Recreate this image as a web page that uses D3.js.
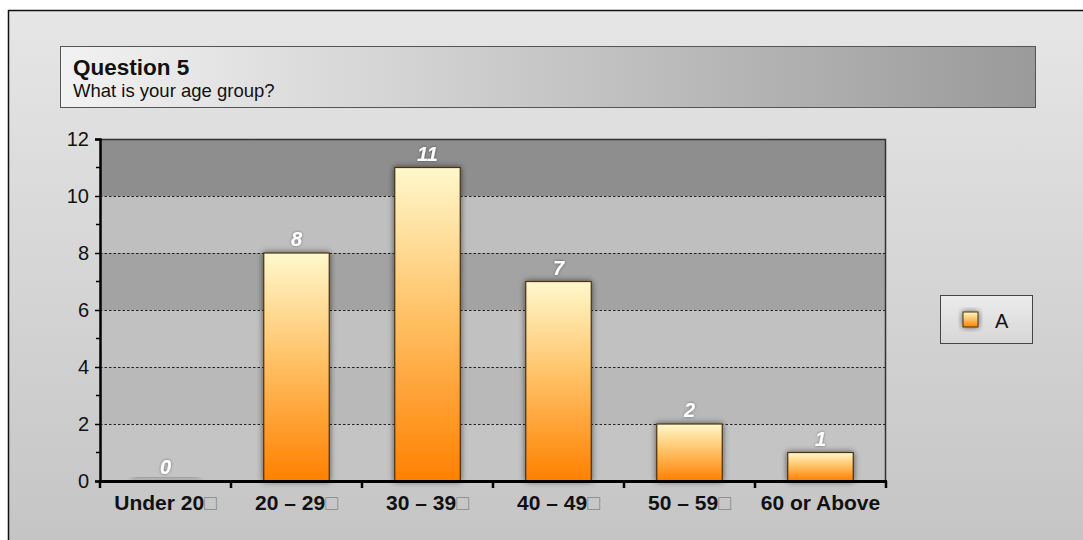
<!DOCTYPE html>
<html>
<head>
<meta charset="utf-8">
<script src="https://cdn.jsdelivr.net/npm/d3@7"></script>
<style>
  html, body { margin: 0; padding: 0; background: #ffffff; }
  svg { display: block; font-family: "Liberation Sans", Arial, sans-serif; }
</style>
</head>
<body>
<svg id="chart" width="1083" height="540"></svg>
<script>
// Survey answers: age groups and respondent counts
const categories = ["Under 20\u25A1", "20 \u2013 29\u25A1", "30 \u2013 39\u25A1", "40 \u2013 49\u25A1", "50 \u2013 59\u25A1", "60 or Above"];
const counts = [0, 8, 11, 7, 2, 1];
const yTicks = [0, 2, 4, 6, 8, 10, 12];
const yMinorTicks = [1, 3, 5, 7, 9, 11];
const bandShades = ["#c4c4c4", "#b9b9b9", "#c1c1c1", "#a3a3a3", "#bfbfbf", "#8e8e8e"];
const titleText = "Question 5";
const subtitleText = "What is your age group?";
const seriesName = "A";

const svg = d3.select("#chart");
const defs = svg.append("defs");

// Gradients
const frameGrad = defs.append("linearGradient").attr("id", "frameGrad")
  .attr("x1", 0).attr("y1", 0).attr("x2", 0).attr("y2", 1);
frameGrad.append("stop").attr("offset", "0%").attr("stop-color", "#e6e6e6");
frameGrad.append("stop").attr("offset", "100%").attr("stop-color", "#c4c4c4");

const titleGrad = defs.append("linearGradient").attr("id", "titleGrad")
  .attr("x1", 0).attr("y1", 0).attr("x2", 1).attr("y2", 0);
titleGrad.append("stop").attr("offset", "0%").attr("stop-color", "#f2f2f2");
titleGrad.append("stop").attr("offset", "100%").attr("stop-color", "#9a9a9a");

const barGrad = defs.append("linearGradient").attr("id", "barGrad")
  .attr("x1", 0).attr("y1", 0).attr("x2", 0).attr("y2", 1);
barGrad.append("stop").attr("offset", "0%").attr("stop-color", "#fff8cc");
barGrad.append("stop").attr("offset", "45%").attr("stop-color", "#ffc46a");
barGrad.append("stop").attr("offset", "100%").attr("stop-color", "#ff8000");

const legendGrad = defs.append("linearGradient").attr("id", "legendGrad")
  .attr("x1", 0).attr("y1", 0).attr("x2", 0).attr("y2", 1);
legendGrad.append("stop").attr("offset", "0%").attr("stop-color", "#ececec");
legendGrad.append("stop").attr("offset", "100%").attr("stop-color", "#d6d6d6");

const shadow = defs.append("filter").attr("id", "barShadow")
  .attr("x", "-30%").attr("y", "-30%").attr("width", "160%").attr("height", "160%");
shadow.append("feGaussianBlur").attr("in", "SourceAlpha").attr("stdDeviation", 3).attr("result", "blur");
shadow.append("feComponentTransfer").attr("in", "blur").attr("result", "soft")
  .append("feFuncA").attr("type", "linear").attr("slope", 0.6);
const sm = shadow.append("feMerge");
sm.append("feMergeNode").attr("in", "soft");
sm.append("feMergeNode").attr("in", "SourceGraphic");

const textShadow = defs.append("filter").attr("id", "textShadow")
  .attr("x", "-30%").attr("y", "-30%").attr("width", "160%").attr("height", "160%");
textShadow.append("feGaussianBlur").attr("in", "SourceAlpha").attr("stdDeviation", 1.5).attr("result", "blur");
textShadow.append("feComponentTransfer").attr("in", "blur").attr("result", "soft")
  .append("feFuncA").attr("type", "linear").attr("slope", 0.45);
const tm = textShadow.append("feMerge");
tm.append("feMergeNode").attr("in", "soft");
tm.append("feMergeNode").attr("in", "SourceGraphic");

// Outer frame
svg.append("rect").attr("x", 8.5).attr("y", 10.5).attr("width", 1090).attr("height", 540)
  .attr("fill", "url(#frameGrad)").attr("stroke", "#111").attr("stroke-width", 1.5);

// Title box
svg.append("rect").attr("x", 60.5).attr("y", 46.5).attr("width", 975).attr("height", 61)
  .attr("fill", "url(#titleGrad)").attr("stroke", "#555").attr("stroke-width", 1);
svg.append("text").attr("x", 73).attr("y", 75)
  .attr("font-size", 22.5).attr("font-weight", "bold").attr("fill", "#111").text(titleText);
svg.append("text").attr("x", 73).attr("y", 97)
  .attr("font-size", 18.5).attr("fill", "#111").text(subtitleText);

// Plot area
const plot = { left: 100, right: 886, top: 139, bottom: 481 };

const x = d3.scaleBand().domain(categories).range([plot.left, plot.right]).paddingInner(0.5).paddingOuter(0.25);
const xEdges = d3.scaleLinear().domain([0, categories.length]).range([plot.left, plot.right]);
const y = d3.scaleLinear().domain([0, 12]).range([plot.bottom, plot.top]);

// Alternating shaded bands between major gridlines
const bands = d3.pairs(yTicks);
svg.append("g").selectAll("rect").data(bands).join("rect")
  .attr("x", plot.left).attr("width", plot.right - plot.left)
  .attr("y", d => y(d[1])).attr("height", d => y(d[0]) - y(d[1]))
  .attr("fill", (d, i) => bandShades[i]);

// Dotted gridlines
svg.append("g").selectAll("line").data(yTicks.filter(t => t > 0 && t < 12)).join("line")
  .attr("x1", plot.left).attr("x2", plot.right)
  .attr("y1", d => y(d) + 0.5).attr("y2", d => y(d) + 0.5)
  .attr("stroke", "#222").attr("stroke-width", 1.2).attr("stroke-dasharray", "2.5,2");

// Plot border (top and right)
svg.append("path")
  .attr("d", `M${plot.left},${plot.top + 0.5}H${plot.right - 0.5}V${plot.bottom}`)
  .attr("fill", "none").attr("stroke", "#333").attr("stroke-width", 1.5);

// Bars
svg.append("g").selectAll("rect").data(counts).join("rect")
  .attr("x", (d, i) => x(categories[i]))
  .attr("width", x.bandwidth())
  .attr("y", d => d > 0 ? y(d) : y(0) - 3)
  .attr("height", d => d > 0 ? y(0) - y(d) : 3)
  .attr("fill", d => d > 0 ? "url(#barGrad)" : "#b0b0b0")
  .attr("stroke", d => d > 0 ? "#4a3010" : "none")
  .attr("stroke-width", 1.2)
  .attr("filter", "url(#barShadow)");

// Value labels
svg.append("g").selectAll("text").data(counts).join("text")
  .attr("x", (d, i) => x(categories[i]) + x.bandwidth() / 2)
  .attr("y", d => y(d) - 7)
  .attr("text-anchor", "middle")
  .attr("font-size", 20).attr("font-weight", "bold").attr("font-style", "italic")
  .attr("fill", "#ffffff").attr("filter", "url(#textShadow)")
  .text(d => d);

// Y axis
const yAxis = svg.append("g").attr("transform", `translate(${plot.left},0)`)
  .call(d3.axisLeft(y).tickValues(yTicks).tickSize(5).tickPadding(6).tickFormat(d3.format("d")));
yAxis.select(".domain").attr("stroke", "#000").attr("stroke-width", 2.5);
yAxis.selectAll(".tick line").attr("stroke", "#000").attr("stroke-width", 1.5);
yAxis.selectAll(".tick text").attr("font-size", 20).attr("fill", "#111")
  .attr("font-family", "'Liberation Sans', Arial, sans-serif");
svg.append("g").selectAll("line").data(yMinorTicks).join("line")
  .attr("x1", plot.left - 4).attr("x2", plot.left)
  .attr("y1", d => y(d)).attr("y2", d => y(d))
  .attr("stroke", "#000").attr("stroke-width", 1.5);

// X axis line and boundary ticks
svg.append("line").attr("x1", plot.left - 1).attr("x2", plot.right + 1)
  .attr("y1", plot.bottom + 0.5).attr("y2", plot.bottom + 0.5)
  .attr("stroke", "#000").attr("stroke-width", 3);
svg.append("g").selectAll("line").data(d3.range(categories.length + 1)).join("line")
  .attr("x1", d => xEdges(d)).attr("x2", d => xEdges(d))
  .attr("y1", plot.bottom).attr("y2", plot.bottom + 7)
  .attr("stroke", "#000").attr("stroke-width", 2.5);

// Category labels; the trailing box glyph is drawn in a lighter shade
const xl = svg.append("g").selectAll("text").data(categories).join("text")
  .attr("x", d => x(d) + x.bandwidth() / 2)
  .attr("y", 510)
  .attr("text-anchor", "middle")
  .attr("font-size", 21).attr("font-weight", "bold").attr("fill", "#111");
xl.each(function(d) {
  const t = d3.select(this);
  const hasBox = d.endsWith("\u25A1");
  t.append("tspan").text(hasBox ? d.slice(0, -1) : d);
  if (hasBox) t.append("tspan").attr("fill", "#888").attr("font-weight", "normal").text("\u25A1");
});

// Legend
svg.append("rect").attr("x", 940.5).attr("y", 295.5).attr("width", 92).attr("height", 48)
  .attr("fill", "url(#legendGrad)").attr("stroke", "#444").attr("stroke-width", 1);
svg.append("rect").attr("x", 963).attr("y", 312).attr("width", 15).attr("height", 15)
  .attr("fill", "url(#barGrad)").attr("stroke", "#4a3010").attr("stroke-width", 1)
  .attr("filter", "url(#barShadow)");
svg.append("text").attr("x", 995).attr("y", 328)
  .attr("font-size", 20).attr("fill", "#111").text(seriesName);
</script>
</body>
</html>
